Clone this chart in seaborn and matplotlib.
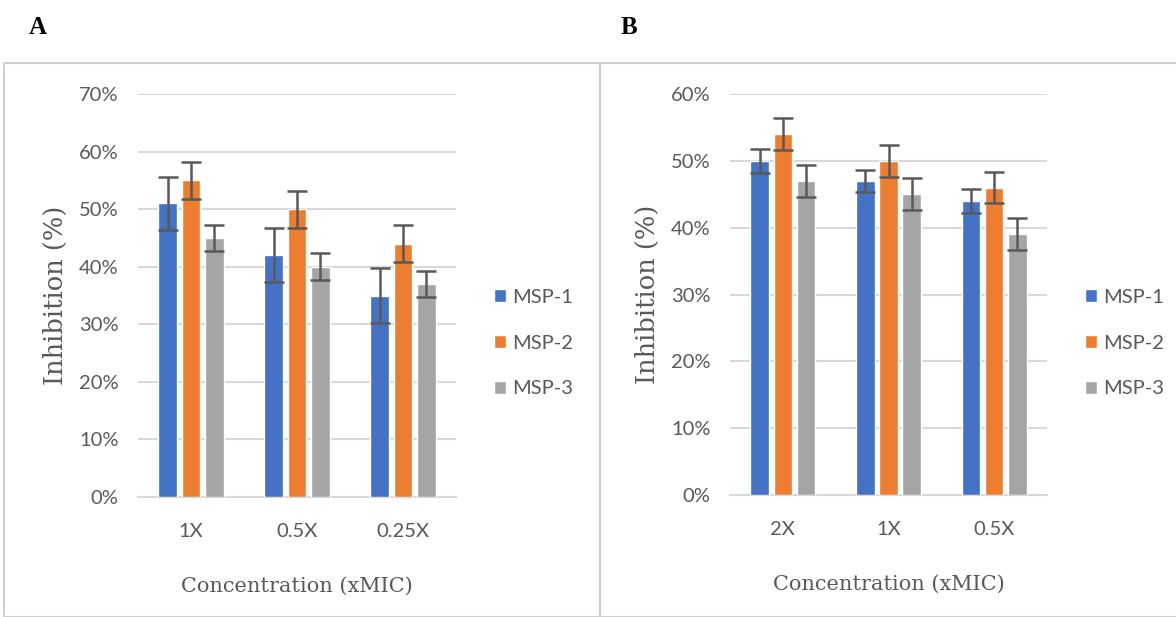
import numpy as np
import pandas as pd
import matplotlib
matplotlib.use("Agg")
import matplotlib.pyplot as plt
import seaborn as sns
from matplotlib.patches import Rectangle

# panel A
conc_a = ["1X", "0.5X", "0.25X"]
msp1_a = [51, 42, 35]
msp2_a = [55, 50, 44]
msp3_a = [45, 40, 37]
err1_a = [4.6, 4.7, 4.7]
err2_a = [3.2, 3.2, 3.2]
err3_a = [2.3, 2.3, 2.3]

# panel B
conc_b = ["2X", "1X", "0.5X"]
msp1_b = [50, 47, 44]
msp2_b = [54, 50, 46]
msp3_b = [47, 45, 39]
err1_b = [1.8, 1.7, 1.8]
err2_b = [2.4, 2.4, 2.3]
err3_b = [2.4, 2.4, 2.4]

series = ["MSP-1", "MSP-2", "MSP-3"]
colors = ["#4472C4", "#ED7D31", "#A5A5A5"]
TXT = "#595959"
GRID = "#d9d9d9"

sns.set_theme(style="white")
plt.rcParams["font.family"] = ["Lato", "DejaVu Sans"]


def make_df(conc, vals):
    rows = []
    for name, v in zip(series, vals):
        for c, y in zip(conc, v):
            rows.append({"conc": c, "series": name, "val": y / 100})
    return pd.DataFrame(rows)


def draw_panel(ax, conc, vals, errs, ymax, leg_y):
    df = make_df(conc, vals)
    sns.barplot(data=df, x="conc", y="val", hue="series", order=conc,
                hue_order=series, palette=colors, width=0.66, gap=0.2,
                errorbar=None, saturation=1, ax=ax, zorder=3)
    for cont, err in zip(ax.containers, errs):
        xs = [p.get_x() + p.get_width() / 2 for p in cont.patches]
        ys = [p.get_height() for p in cont.patches]
        ax.errorbar(xs, ys, yerr=np.array(err) / 100, fmt="none",
                    ecolor="#595959", elinewidth=1.8, capsize=7.5,
                    capthick=1.8, zorder=4)
    ax.set_ylim(0, ymax / 100)
    ax.set_xlim(-0.5, len(conc) - 0.5)
    ticks = np.arange(0, ymax + 1, 10)
    ax.set_yticks(ticks / 100)
    ax.set_yticklabels([f"{t}%" for t in ticks])
    ax.yaxis.grid(True, color=GRID, linewidth=1.5, zorder=0)
    ax.set_axisbelow(True)
    for s in ["top", "right", "left"]:
        ax.spines[s].set_visible(False)
    ax.spines["bottom"].set_color(GRID)
    ax.spines["bottom"].set_linewidth(1.5)
    ax.tick_params(axis="both", length=0, labelsize=14.5, colors=TXT)
    ax.tick_params(axis="y", pad=14)
    ax.tick_params(axis="x", pad=19)
    ax.set_xlabel("Concentration (xMIC)", family="DejaVu Serif",
                  fontsize=15, color=TXT, labelpad=26)
    ax.set_ylabel("Inhibition (%)", family="DejaVu Serif",
                  fontsize=18.5, color=TXT, labelpad=8)
    ax.legend(loc="center left", bbox_to_anchor=(1.063, leg_y), frameon=False,
              fontsize=14.5, labelcolor=TXT, handlelength=0.6, handleheight=0.6,
              handletextpad=0.3, labelspacing=1.43, title=None)


fig = plt.figure(figsize=(11.76, 6.17), dpi=100)
W, H = 1176, 617

ax_a = fig.add_axes([138 / W, 1 - 497 / H, 318 / W, 403 / H])
ax_b = fig.add_axes([730 / W, 1 - 495 / H, 317 / W, 401 / H])

draw_panel(ax_a, conc_a, [msp1_a, msp2_a, msp3_a], [err1_a, err2_a, err3_a], 70, 0.382)
draw_panel(ax_b, conc_b, [msp1_b, msp2_b, msp3_b], [err1_b, err2_b, err3_b], 60, 0.379)

# panel frames
border = "#d0d0d0"
fig.add_artist(Rectangle((4 / W, 0), 596 / W, 1 - 63 / H, transform=fig.transFigure,
                         fill=False, edgecolor=border, linewidth=1.5))
fig.add_artist(Rectangle((600 / W, 0), 580 / W, 1 - 63 / H, transform=fig.transFigure,
                         fill=False, edgecolor=border, linewidth=1.5))

fig.text(29 / W, 1 - 27 / H, "A", family="Liberation Serif", fontweight="bold",
         fontsize=18, va="center", ha="left", color="black")
fig.text(621 / W, 1 - 27 / H, "B", family="Liberation Serif", fontweight="bold",
         fontsize=18, va="center", ha="left", color="black")

fig.savefig("out.png", dpi=100)
